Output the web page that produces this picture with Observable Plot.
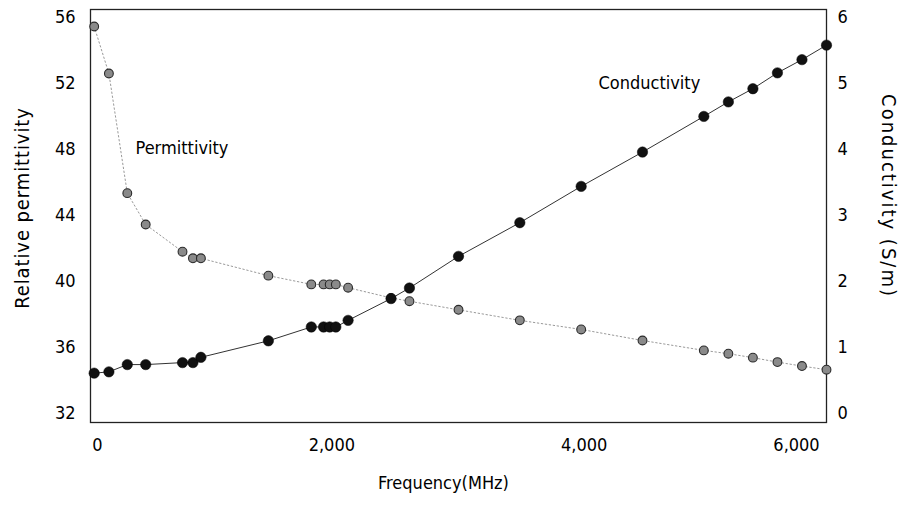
<!DOCTYPE html>
<html>
<head>
<meta charset="utf-8">
<script src="https://cdn.jsdelivr.net/npm/d3@7"></script>
<script src="https://cdn.jsdelivr.net/npm/@observablehq/plot@0.6"></script>
<style>
html, body { margin: 0; padding: 0; background: #fff; }
#chart svg { display: block; }
</style>
</head>
<body>
<div id="chart"></div>
<script>
// ---- data ----
const frequency = [30, 150, 300, 450, 750, 835, 900, 1450, 1800, 1900, 1950, 2000, 2100, 2450, 2600, 3000, 3500, 4000, 4500, 5000, 5200, 5400, 5600, 5800, 6000];
const permittivity = [55.45, 52.6, 45.35, 43.45, 41.8, 41.4, 41.4, 40.35, 39.82, 39.82, 39.82, 39.82, 39.62, 39.0, 38.8, 38.28, 37.64, 37.09, 36.42, 35.82, 35.62, 35.38, 35.11, 34.87, 34.65];
const conductivity = [0.61, 0.63, 0.74, 0.74, 0.77, 0.77, 0.85, 1.10, 1.31, 1.31, 1.31, 1.31, 1.41, 1.74, 1.90, 2.38, 2.89, 3.44, 3.96, 4.50, 4.72, 4.92, 5.16, 5.36, 5.58];
const permTicks = [32, 36, 40, 44, 48, 52, 56];
const condTicks = [0, 1, 2, 3, 4, 5, 6];
const freqTicks = [0, 2000, 4000, 6000];
const seriesNames = ["Permittivity", "Conductivity"];
const labelFrequency = [367, 4141];
const labelValue = [48.06, 52.0];
const titleX = "Frequency(MHz)";
const titleYLeft = "Relative permittivity";
const titleYRight = "Conductivity (S/m)";

// conductivity (S/m) expressed in left-axis units: 0 ↔ 32, 6 ↔ 56
const toPerm = d3.scaleLinear([0, 6], [32, 56]);
const rows = frequency.map((f, i) => ({f, p: permittivity[i], c: conductivity[i]}));
const seriesLabels = seriesNames.map((name, i) => ({name, f: labelFrequency[i], v: labelValue[i]}));
const fmt = d3.format(",");

const COND = '"DejaVu Sans Condensed", "Liberation Sans Narrow", "DejaVu Sans", sans-serif';
const WIDE = '"DejaVu Sans", sans-serif';

const chart = Plot.plot({
  width: 904,
  height: 507,
  marginLeft: 90,
  marginRight: 78,
  marginTop: 9,
  marginBottom: 85,
  style: {fontFamily: COND, fontSize: "18px", fontStretch: "condensed", color: "#000", background: "#fff"},
  x: {domain: [0, 6000]},
  y: {domain: [31.45, 56.48]},
  marks: [
    Plot.frame({stroke: "#222", strokeWidth: 1.3}),
    Plot.axisY(permTicks, {anchor: "left", tickSize: 0, tickPadding: 15, label: null, fontSize: 18}),
    Plot.axisY(condTicks.map(toPerm), {anchor: "right", tickSize: 0, tickPadding: 11, label: null, fontSize: 18,
      tickFormat: v => String(Math.round(toPerm.invert(v)))}),
    Plot.axisX([freqTicks[0]], {tickSize: 0, tickPadding: 16, label: null, fontSize: 18, tickFormat: fmt, dx: 7}),
    Plot.axisX([freqTicks[1]], {tickSize: 0, tickPadding: 16, label: null, fontSize: 18, tickFormat: fmt, dx: -4}),
    Plot.axisX([freqTicks[2]], {tickSize: 0, tickPadding: 16, label: null, fontSize: 18, tickFormat: fmt, dx: 3}),
    Plot.axisX([freqTicks[3]], {tickSize: 0, tickPadding: 16, label: null, fontSize: 18, tickFormat: fmt, dx: -30}),
    // permittivity series
    Plot.line(rows, {x: "f", y: "p", stroke: "#9a9a9a", strokeWidth: 1, strokeDasharray: "1.5,2.5"}),
    Plot.dot(rows, {x: "f", y: "p", r: 4.4, fill: "#8a8a8a", stroke: "#2a2a2a", strokeWidth: 1.1}),
    // conductivity series
    Plot.line(rows, {x: "f", y: d => toPerm(d.c), stroke: "#333", strokeWidth: 1}),
    Plot.dot(rows, {x: "f", y: d => toPerm(d.c), r: 5.2, fill: "#111", stroke: "#000", strokeWidth: 0.5}),
    // series labels
    Plot.text(seriesLabels, {x: "f", y: "v", text: "name", textAnchor: "start", fontSize: 18, fill: "#000"}),
    // axis titles
    Plot.text([titleYLeft], {frameAnchor: "left", textAnchor: "middle", rotate: -90, dx: -68, dy: -8, fontSize: 20, fontFamily: WIDE, fill: "#000"}),
    Plot.text([titleYRight], {frameAnchor: "right", textAnchor: "middle", rotate: 90, dx: 62, dy: -20, fontSize: 20, fontFamily: WIDE, fill: "#000"}),
    Plot.text([titleX], {frameAnchor: "bottom", dx: -15, dy: 66, fontSize: 18, fill: "#000"})
  ]
});
// stretch the vertical titles slightly (letter spacing) as in the reference
chart.querySelectorAll("text").forEach(t => {
  if (t.textContent === titleYLeft) t.setAttribute("letter-spacing", "0.9");
  if (t.textContent === titleYRight) t.setAttribute("letter-spacing", "2");
});
document.getElementById("chart").appendChild(chart);
</script>
</body>
</html>
